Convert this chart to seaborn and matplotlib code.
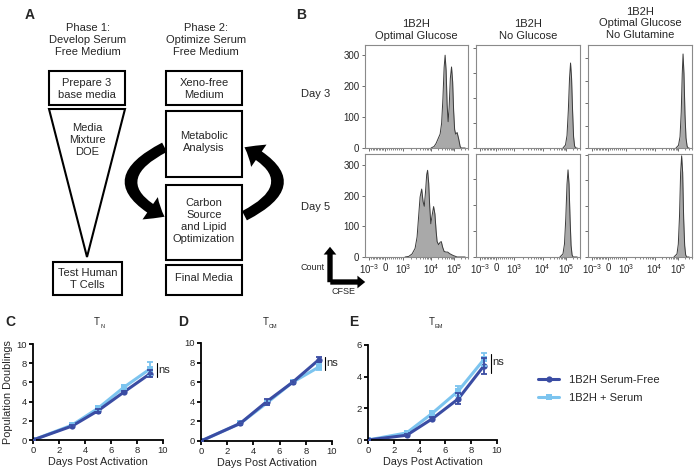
import numpy as np
import pandas as pd
import matplotlib
matplotlib.use("Agg")
import matplotlib.pyplot as plt
import seaborn as sns
from matplotlib.patches import Rectangle, Polygon, FancyArrowPatch, ArrowStyle
from matplotlib.lines import Line2D

# ---------------- data ----------------
days = [0, 3, 5, 7, 9]
media = ["1B2H Serum-Free", "1B2H + Serum"]

tn_free = [0, 1.45, 3.05, 5.0, 6.9]
tn_free_err = [0, 0.08, 0.2, 0.15, 0.35]
tn_serum = [0, 1.55, 3.3, 5.5, 7.4]
tn_serum_err = [0, 0.08, 0.15, 0.2, 0.7]

tcm_free = [0, 1.8, 4.0, 6.0, 8.3]
tcm_free_err = [0, 0.08, 0.3, 0.1, 0.25]
tcm_serum = [0, 1.8, 3.85, 6.0, 7.55]
tcm_serum_err = [0, 0.08, 0.2, 0.1, 0.35]

tem_free = [0, 0.3, 1.35, 2.6, 4.7]
tem_free_err = [0, 0.05, 0.1, 0.35, 0.5]
tem_serum = [0, 0.45, 1.7, 3.1, 5.1]
tem_serum_err = [0, 0.1, 0.15, 0.3, 0.4]

# CFSE histograms (x in display channel units 0-100, y = count)
d3_opt_x = [66, 69, 71, 73, 75, 76.5, 77.8, 79, 80, 81, 82, 83, 84, 85.2, 86.4, 87.5, 88.5, 89.5, 90.5, 92, 93.5, 95, 96, 100]
d3_opt_y = [0, 5, 15, 30, 45, 80, 160, 260, 300, 250, 140, 85, 130, 225, 262, 215, 120, 60, 45, 50, 30, 5, 0, 0]
d3_noglc_x = [86, 88.5, 90, 91.3, 92.5, 93.5, 94.5, 95.5, 96.5, 97.5, 98.5, 100]
d3_noglc_y = [0, 12, 50, 150, 280, 340, 280, 150, 45, 8, 0, 0]
d3_nogln_x = [87, 89.5, 91, 92.2, 93.2, 94, 94.9, 95.9, 96.9, 98, 99, 100]
d3_nogln_y = [0, 12, 50, 160, 330, 418, 330, 150, 45, 8, 0, 0]
d5_opt_x = [40, 43.7, 47, 50, 52, 53.5, 55, 56.6, 58, 59.2, 60.5, 61.6, 62.5, 63.6, 64.6, 65.7, 67, 68.5, 69.8, 71, 72, 73.5, 75, 76.2, 77.5, 79, 81, 82.5, 85, 88, 92, 100]
d5_opt_y = [0, 2, 10, 28, 65, 130, 195, 221, 180, 165, 215, 268, 282, 240, 165, 108, 135, 164, 140, 85, 50, 40, 48, 50, 32, 18, 16, 16, 10, 5, 0, 0]
d5_noglc_x = [83, 86, 87.5, 88.8, 90, 91, 92, 93, 94, 95, 96, 100]
d5_noglc_y = [0, 12, 50, 150, 280, 335, 280, 150, 45, 8, 0, 0]
d5_nogln_x = [85, 88, 89.3, 90.5, 91.6, 92.6, 93.6, 94.6, 95.6, 96.6, 97.6, 100]
d5_nogln_y = [0, 12, 50, 160, 330, 395, 330, 150, 45, 8, 0, 0]

hist_titles = ["1B2H\nOptimal Glucose", "1B2H\nNo Glucose", "1B2H\nOptimal Glucose\nNo Glutamine"]
hist_xtick_labels = [r"$10^{-3}$", "0", r"$10^{3}$", r"$10^{4}$", r"$10^{5}$"]
day_labels = ["Day 3", "Day 5"]

# ---------------- style ----------------
sns.set_theme(style="ticks")
plt.rcParams["font.family"] = ["Liberation Sans", "DejaVu Sans"]
plt.rcParams["mathtext.fontset"] = "custom"
plt.rcParams["mathtext.rm"] = "Liberation Sans"
plt.rcParams["mathtext.it"] = "Liberation Sans:italic"
plt.rcParams["mathtext.bf"] = "Liberation Sans:bold"

W, H = 698, 475
fig = plt.figure(figsize=(W / 100, H / 100), dpi=100)
fig.patch.set_facecolor("white")


def px_axes(l, t, r, b):
    return fig.add_axes([l / W, 1 - b / H, (r - l) / W, (b - t) / H])


ov = fig.add_axes([0, 0, 1, 1])
ov.set_xlim(0, W)
ov.set_ylim(H, 0)
ov.axis("off")

# panel letters
for lab, x, y in [("A", 30, 15), ("B", 301, 15), ("C", 10, 322), ("D", 183, 322), ("E", 354, 322)]:
    ov.text(x, y, lab, fontsize=10, fontweight="bold", ha="center", va="center")

# ---------------- Panel A flowchart ----------------
fs = 8
ov.text(88, 40, "Phase 1:\nDevelop Serum\nFree Medium", ha="center", va="center", fontsize=fs, linespacing=1.25)
ov.text(206, 40, "Phase 2:\nOptimize Serum\nFree Medium", ha="center", va="center", fontsize=fs, linespacing=1.25)

blw = 1.5
def box(l, t, r, b, txt, ty=None):
    ov.add_patch(Rectangle((l, t), r - l, b - t, fill=False, lw=blw, ec="black"))
    ov.text((l + r) / 2, (t + b) / 2 if ty is None else ty, txt, ha="center", va="center",
            fontsize=fs, linespacing=1.25)

box(49, 71, 125, 105, "Prepare 3\nbase media", 88.5)
ov.add_patch(Polygon([(49, 109), (125, 109), (87, 257)], closed=True, fill=False, lw=blw, ec="black"))
ov.text(87, 140, "Media\nMixture\nDOE", ha="center", va="center", fontsize=fs, linespacing=1.25)
box(53, 262, 122, 295, "Test Human\nT Cells", 279)

box(166, 71, 242, 105, "Xeno-free\nMedium", 88.5)
box(166, 111, 242, 177, "Metabolic\nAnalysis", 142)
box(166, 185, 242, 260, "Carbon\nSource\nand Lipid\nOptimization", 221)
box(166, 265, 242, 295, "Final Media", 278)

arrow_style = ArrowStyle.Simple(head_length=0.8, head_width=1.3, tail_width=0.5)
ov.add_patch(FancyArrowPatch((167, 146), (167, 218), connectionstyle="arc3,rad=1.0",
                             arrowstyle=arrow_style, mutation_scale=15, color="black", lw=0))
ov.add_patch(FancyArrowPatch((242, 217), (242, 146), connectionstyle="arc3,rad=1.0",
                             arrowstyle=arrow_style, mutation_scale=15, color="black", lw=0))

# ---------------- Panel B histograms ----------------
cols = [(365, 468), (476, 580), (588, 692)]
rows = [(45, 148), (154, 257)]
hdata = [
    [(d3_opt_x, d3_opt_y, 333), (d3_noglc_x, d3_noglc_y, 412), (d3_nogln_x, d3_nogln_y, 458)],
    [(d5_opt_x, d5_opt_y, 335), (d5_noglc_x, d5_noglc_y, 396), (d5_nogln_x, d5_nogln_y, 402)],
]
major_pos = [4, 20, 38, 66, 89]
minor_pos = []
for a, b in [(38, 66), (66, 89)]:
    for k in range(2, 10):
        minor_pos.append(a + (b - a) * np.log10(k))
minor_pos += [89 + 23 * np.log10(k) for k in range(2, 5)]
minor_pos += [20 + 2 * k for k in range(1, 9)]
minor_pos += [6 + 1.5 * k for k in range(9)]

for ri, (t, b) in enumerate(rows):
    for ci, (l, r) in enumerate(cols):
        ax = px_axes(l, t, r, b)
        xs, ys, ymax = hdata[ri][ci]
        ax.fill_between(xs, ys, 0, color="#a9a9a9", lw=0)
        ax.plot(xs, ys, color="#3a3a3a", lw=0.7)
        ax.set_xlim(0, 100)
        ax.set_ylim(0, ymax)
        ax.set_yticks([0, 100, 200, 300] + ([400] if ymax > 400 else []))
        ax.set_xticks(major_pos)
        ax.set_xticks(minor_pos, minor=True)
        for s in ax.spines.values():
            s.set_color("#8a8a8a")
            s.set_linewidth(0.8)
        ax.tick_params(axis="both", which="major", length=2.5, width=0.6, color="#555555",
                       labelsize=7, pad=1.5)
        ax.tick_params(axis="x", which="minor", length=1.5, width=0.5, color="#555555")
        if ci == 0:
            ax.set_yticklabels(["0", "100", "200", "300"])
        else:
            ax.set_yticklabels([""] * len(ax.get_yticks()))
        if ri == 1:
            ax.set_xticklabels(hist_xtick_labels, fontsize=7)
        else:
            ax.set_xticklabels([])
        ax.set_facecolor("white")
        if ri == 0:
            ov.text((l + r) / 2, 30 if ci < 2 else 23.5, hist_titles[ci], ha="center", va="center",
                    fontsize=8, linespacing=1.2)

ov.text(316, 94, day_labels[0], ha="center", va="center", fontsize=8)
ov.text(316, 207, day_labels[1], ha="center", va="center", fontsize=8)

small_arrow = ArrowStyle.Simple(head_length=0.8, head_width=1.3, tail_width=0.55)
ov.add_patch(FancyArrowPatch((330, 285), (330, 244), arrowstyle=small_arrow, mutation_scale=7,
                             color="black", lw=0))
ov.add_patch(FancyArrowPatch((327.5, 282), (368, 282), arrowstyle=small_arrow, mutation_scale=7,
                             color="black", lw=0))
ov.text(313, 268, "Count", ha="center", va="center", fontsize=6.5)
ov.text(343, 292, "CFSE", ha="center", va="center", fontsize=6.5)

# ---------------- Panels C, D, E ----------------
dark = "#3a4ca3"
light = "#7cc4ef"
palette = {media[0]: dark, media[1]: light}
markers = {media[0]: "o", media[1]: "s"}

panels = [
    ((33, 344, 163, 440), 10, tn_free, tn_free_err, tn_serum, tn_serum_err, "N", (9.5, 6.55, 8.0, 7.3)),
    ((201, 343, 332, 441), 10, tcm_free, tcm_free_err, tcm_serum, tcm_serum_err, "CM", (9.45, 7.2, 8.6, 7.95)),
    ((368, 345, 497, 440), 6, tem_free, tem_free_err, tem_serum, tem_serum_err, "EM", (9.5, 4.25, 5.45, 4.9)),
]

for i, (pos, ymax, fr, fre, se, see, sub, ns) in enumerate(panels):
    l, t, r, b = pos
    ax = px_axes(l, t, r, b)
    df = pd.DataFrame({
        "Day": days + days,
        "Doublings": se + fr,
        "Medium": [media[1]] * len(days) + [media[0]] * len(days),
    })
    sns.lineplot(data=df, x="Day", y="Doublings", hue="Medium", style="Medium",
                 hue_order=[media[1], media[0]], style_order=[media[1], media[0]],
                 palette=palette, markers=markers, dashes=False, errorbar=None,
                 linewidth=2.2, markersize=4.5, markeredgewidth=0, legend=False, ax=ax)
    ax.errorbar(days, se, yerr=see, fmt="none", ecolor=light, elinewidth=1.3, capsize=2, capthick=1.3, zorder=3)
    ax.errorbar(days, fr, yerr=fre, fmt="none", ecolor=dark, elinewidth=1.3, capsize=2, capthick=1.3, zorder=4)
    ax.set_xlim(0, 10)
    ax.set_ylim(0, ymax)
    ax.set_xticks([0, 2, 4, 6, 8, 10])
    ax.set_yticks(list(range(0, ymax + 1, 2)))
    sns.despine(ax=ax)
    for s in ["left", "bottom"]:
        ax.spines[s].set_linewidth(1.3)
        ax.spines[s].set_color("black")
    ax.tick_params(length=3, width=1.3, labelsize=6.8, pad=1.5, color="black")
    ax.set_xlabel("Days Post Activation", fontsize=7.8, labelpad=1)
    if i == 0:
        ax.set_ylabel("Population Doublings", fontsize=7.8, labelpad=2)
    else:
        ax.set_ylabel("")
    ax.set_facecolor("white")
    nx, y0, y1, ty = ns
    ax.plot([nx, nx], [y0, y1], color="black", lw=0.8, clip_on=False)
    ax.text(nx + 0.15, ty, "ns", fontsize=8, va="center", ha="left", clip_on=False)
    cx = (l + r) / 2
    ov.text(cx + 2, 322, "T", fontsize=7, ha="right", va="center")
    ov.text(cx + 2.3, 326, sub, fontsize=4, ha="left", va="center")

handles = [
    Line2D([0], [0], color=dark, lw=2.2, marker="o", markersize=4.5, markeredgewidth=0),
    Line2D([0], [0], color=light, lw=2.2, marker="s", markersize=4.5, markeredgewidth=0),
]
fig.legend(handles, media, loc="center left", bbox_to_anchor=(538 / W, 1 - 389 / H), frameon=False,
           fontsize=8, handlelength=1.9, handletextpad=0.9, labelspacing=0.75, borderaxespad=0,
           borderpad=0)

fig.savefig("out.png", dpi=100, facecolor="white")
